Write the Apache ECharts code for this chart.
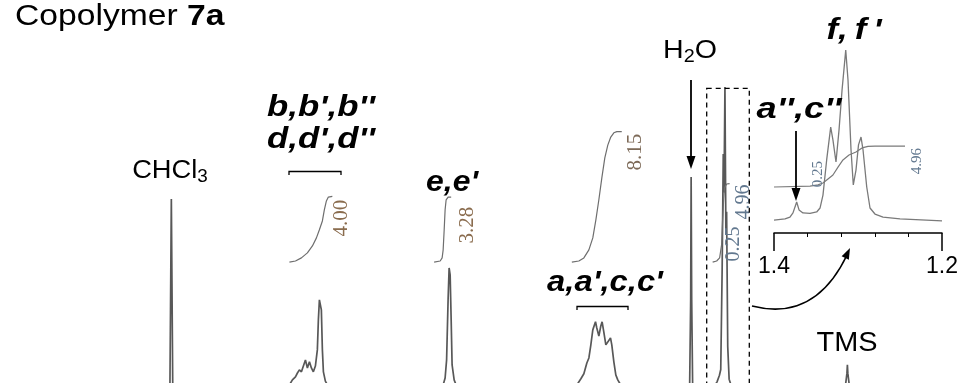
<!DOCTYPE html>
<html><head><meta charset="utf-8">
<script src="https://cdn.jsdelivr.net/npm/echarts@6/dist/echarts.min.js"></script>
<style>html,body{margin:0;padding:0;background:#fff}#c{width:961px;height:383px}</style>
</head><body><div id="c"></div>
<script>
// 1H NMR of copolymer 7a in CDCl3: chemical shift (ppm) vs. intensity (arbitrary units)

// full spectrum, one small list per signal group: [ppm, intensity]
const chcl3Peak = [[7.275,0],[7.26,48.3],[7.245,0]];
const bdPeaks = [[5.992,0],[5.960,1.3],[5.927,2.1],[5.906,3.1],[5.885,3.9],[5.863,3.4],[5.842,4.9],[5.820,6.5],[5.799,4.4],[5.777,6.0],[5.756,4.4],[5.735,3.4],[5.713,4.9],[5.692,9.1],[5.681,16.9],[5.670,22.1],[5.659,22.3],[5.649,19.5],[5.638,9.1],[5.627,3.4],[5.606,1.0],[5.584,0]];
const ePeak = [[4.341,0],[4.320,1.8],[4.304,6.5],[4.288,22.1],[4.277,30.4],[4.266,28.6],[4.255,16.9],[4.245,5.2],[4.223,1.3],[4.202,0]];
const acPeaks = [[2.905,0],[2.862,1.6],[2.830,2.9],[2.798,5.7],[2.776,7.0],[2.755,10.4],[2.734,14.3],[2.705,16.4],[2.691,14.8],[2.669,12.7],[2.648,15.3],[2.634,16.4],[2.616,13.8],[2.594,10.4],[2.573,10.9],[2.544,12.2],[2.530,10.4],[2.508,6.0],[2.487,2.6],[2.466,1.3],[2.434,0]];
const waterPeak = [[1.694,0],[1.683,22.1],[1.678,54.0],[1.672,22.1],[1.662,0]];
const fPeaks = [[1.42,0],[1.40,0.8],[1.374,2.5],[1.36,4.0],[1.345,30],[1.333,60],[1.325,50],[1.315,77.4],[1.305,40],[1.297,45],[1.285,10],[1.27,1.5],[1.25,0]];
const tmsPeak = [[0.02,0],[0.005,3.0],[0.0,5.2],[-0.005,3.0],[-0.02,0]];

// integral traces of the full spectrum
const bdIntegral = [[5.992,31.9],[5.927,32.2],[5.863,33.0],[5.799,34.3],[5.745,36.1],[5.702,38.2],[5.670,40.3],[5.638,42.6],[5.617,45.5],[5.595,47.8],[5.574,48.8],[5.531,49.0]];
const eIntegral = [[4.438,31.9],[4.373,32.2],[4.352,33.0],[4.341,35.1],[4.330,40.3],[4.320,45.5],[4.309,48.1],[4.288,48.8],[4.255,48.8]];
const acIntegral = [[2.959,31.9],[2.884,32.2],[2.830,33.0],[2.776,35.1],[2.734,38.2],[2.701,42.9],[2.669,48.1],[2.637,53.8],[2.605,59.0],[2.573,62.3],[2.541,64.4],[2.508,65.5],[2.476,65.8],[2.423,65.8]];
const fIntegral = [[1.447,31.9],[1.404,32.2],[1.372,33.0],[1.351,36.4],[1.340,42.9],[1.329,48.1],[1.319,51.2],[1.297,52.2],[1.265,52.3]];

// expanded 1.4 - 1.2 ppm region
const insetTrace = [[1.4,0.4],[1.3869,1.0],[1.381,2.0],[1.3774,4.2],[1.373,10.0],[1.3702,5.8],[1.3655,4.2],[1.3571,3.9],[1.3492,4.7],[1.3452,6.8],[1.3417,13.7],[1.3373,32.4],[1.3325,49.9],[1.3298,43.0],[1.3262,31.3],[1.3226,48.3],[1.3190,69.6],[1.3146,90.9],[1.3119,75.0],[1.3083,37.7],[1.3056,19.1],[1.3024,27.0],[1.2994,40.4],[1.2964,44.6],[1.2940,37.7],[1.2896,18.0],[1.2857,6.8],[1.2798,3.6],[1.2702,2.0],[1.25,1.0],[1.2,0]];
const insetIntegral = [[1.4,18.0],[1.3571,18.5],[1.3476,19.1],[1.3417,20.1],[1.3357,22.3],[1.3298,24.4],[1.3238,28.6],[1.3179,32.4],[1.3107,35.0],[1.3024,36.6],[1.2952,38.8],[1.2881,39.6],[1.2798,39.8],[1.2440,39.8]];
const insetTicks = [1.4, 1.2];

// integral values printed beside the traces
const integralLabels = ['4.00', '3.28', '8.15', '0.25', '4.96'];

const spectrum = [[9.1,0]].concat(chcl3Peak, bdPeaks, ePeak, acPeaks, waterPeak, fPeaks, tmsPeak, [[-1.22,0]]);

const chart = echarts.init(document.getElementById('c'), null, {renderer: 'canvas'});

const sans = '"Liberation Sans", Arial, sans-serif';
const serif = '"Liberation Serif", "Times New Roman", serif';
const specLine = {color: '#585858', width: 1.7};
const integLine = {color: '#6e6e6e', width: 1.2};

function lineSeries(data, xi, yi, style) {
  return {type: 'line', data: data, xAxisIndex: xi, yAxisIndex: yi, showSymbol: false,
    symbol: 'none', lineStyle: style, animation: false, silent: true, z: 2};
}

// text anchored at its centre; sx widens the glyphs horizontally
function label(text, x, y, opt) {
  opt = opt || {};
  return {type: 'text', x: x, y: y, z: 10, rotation: opt.rotation || 0, scaleX: opt.sx || 1,
    style: {text: text, fill: opt.fill || '#000', align: 'center', verticalAlign: 'middle',
      font: (opt.style || 'normal') + ' ' + (opt.weight || 'normal') + ' ' + (opt.size || 24) + 'px ' + (opt.family || sans)}};
}

function tag(text, x, y, size, sx) {
  return label(text, x, y, {style: 'italic', weight: 'bold', size: size, sx: sx});
}

function integ(text, x, y, size, fill) {
  return label(text, x, y, {rotation: Math.PI / 2, size: size, family: serif, fill: fill});
}

function subText(parts, x, y, size, sx, align) {
  return {type: 'text', x: x, y: y, z: 10, scaleX: sx, style: {text: parts, align: align || 'center', verticalAlign: 'middle',
    rich: {n: {fontSize: size, fontFamily: sans, fill: '#000'},
      b: {fontSize: size, fontFamily: sans, fontWeight: 'bold', fill: '#000'},
      s: {fontSize: Math.round(size * 0.7), fontFamily: sans, fill: '#000', padding: [Math.round(size * 0.5), 0, 0, 0]}}}};
}

function arrowHead(x, y, dx, dy, len, half) {
  const n = Math.hypot(dx, dy), ux = dx / n, uy = dy / n;
  const bx = x - ux * len, by = y - uy * len;
  return {type: 'polygon', z: 10, shape: {points: [[x, y], [bx - uy * half, by + ux * half], [bx + uy * half, by - ux * half]]},
    style: {fill: '#000'}};
}

const option = {
  backgroundColor: '#fff',
  animation: false,
  grid: [
    {left: 0, right: 0, top: 0, bottom: 0},
    {left: 774, width: 168, top: 33, height: 200}
  ],
  xAxis: [
    {type: 'value', gridIndex: 0, min: -1.22, max: 9.1, inverse: true, show: false},
    {type: 'value', gridIndex: 1, min: 1.2, max: 1.4, interval: 0.2, inverse: true,
      axisLine: {show: true, onZero: false, lineStyle: {color: '#000', width: 1.5}},
      axisTick: {show: true, length: 18, lineStyle: {color: '#000', width: 1.5}},
      minorTick: {show: true, splitNumber: 5, length: 4, lineStyle: {color: '#000', width: 1}},
      splitLine: {show: false}, minorSplitLine: {show: false},
      axisLabel: {show: true, showMinLabel: true, showMaxLabel: true, margin: 22, color: '#000',
        fontSize: 23, fontFamily: sans,
        formatter: v => insetTicks.some(t => Math.abs(t - v) < 1e-6) ? v.toFixed(1) : ''}}
  ],
  yAxis: [
    {type: 'value', gridIndex: 0, min: 0.5, max: 100, show: false},
    {type: 'value', gridIndex: 1, min: -6.5, max: 100, show: false}
  ],
  series: [
    lineSeries(spectrum, 0, 0, specLine),
    lineSeries(bdIntegral, 0, 0, integLine),
    lineSeries(eIntegral, 0, 0, integLine),
    lineSeries(acIntegral, 0, 0, integLine),
    lineSeries(fIntegral, 0, 0, integLine),
    lineSeries(insetTrace, 1, 1, {color: '#7a7a7a', width: 1.3}),
    lineSeries(insetIntegral, 1, 1, {color: '#7a7a7a', width: 1.2})
  ]
};
chart.setOption(option);

const brown = '#8a6c4e', blue = '#62788f';
const graphics = [
  subText('{n|Copolymer }{b|7a}', 15, 17, 29, 1.16, 'left'),
  subText('{n|CHCl}{s|3}', 170, 171, 26, 1.05),
  subText('{n|H}{s|2}{n|O}', 690, 51, 26, 1.1),
  tag("b,b',b''", 321, 108, 29, 1.2),
  tag("d,d',d''", 321, 140, 29, 1.2),
  tag("e,e'", 452, 183, 29, 1.1),
  tag("a,a',c,c'", 605, 283, 29, 1.13),
  tag("a'',c''", 799, 110, 29, 1.25),
  tag("f,\u2009f\u2009'", 854, 31, 29, 1.2),
  label('TMS', 847, 344, {size: 27, sx: 1.07}),
  integ(integralLabels[0], 341, 218, 21, brown),
  integ(integralLabels[1], 467, 225, 21, brown),
  integ(integralLabels[2], 635, 152, 21, '#7d6a58'),
  integ(integralLabels[3], 734, 244, 20, blue),
  integ(integralLabels[4], 744, 202, 20, blue),
  integ(integralLabels[3], 818, 174, 15, blue),
  integ(integralLabels[4], 917, 161, 15, blue),
  // brackets over the multiplets
  {type: 'polyline', z: 10, shape: {points: [[289, 175], [289, 171.5], [341, 171.5], [341, 175]]}, style: {stroke: '#000', lineWidth: 1.3, fill: null}},
  {type: 'polyline', z: 10, shape: {points: [[577, 310], [577, 306.5], [628, 306.5], [628, 310]]}, style: {stroke: '#000', lineWidth: 1.3, fill: null}},
  // dashed frame around the expanded region
  {type: 'rect', z: 10, shape: {x: 706.7, y: 88.3, width: 42.6, height: 300}, style: {stroke: '#000', lineWidth: 1.3, fill: null, lineDash: [5, 4]}},
  // pointer arrows
  {type: 'line', z: 10, shape: {x1: 691, y1: 80, x2: 691, y2: 160}, style: {stroke: '#000', lineWidth: 1.8}},
  arrowHead(691, 169, 0, 1, 13, 4.5),
  {type: 'line', z: 10, shape: {x1: 796, y1: 131, x2: 796, y2: 192}, style: {stroke: '#000', lineWidth: 1.8}},
  arrowHead(796, 201, 0, 1, 13, 4.5),
  {type: 'bezierCurve', z: 10, shape: {x1: 752, y1: 306, x2: 847, y2: 255, cpx1: 815, cpy1: 322}, style: {stroke: '#000', lineWidth: 1.6, fill: null}},
  arrowHead(850, 248, 35, -73, 11, 4)
];
chart.setOption({graphic: graphics});
</script></body></html>
